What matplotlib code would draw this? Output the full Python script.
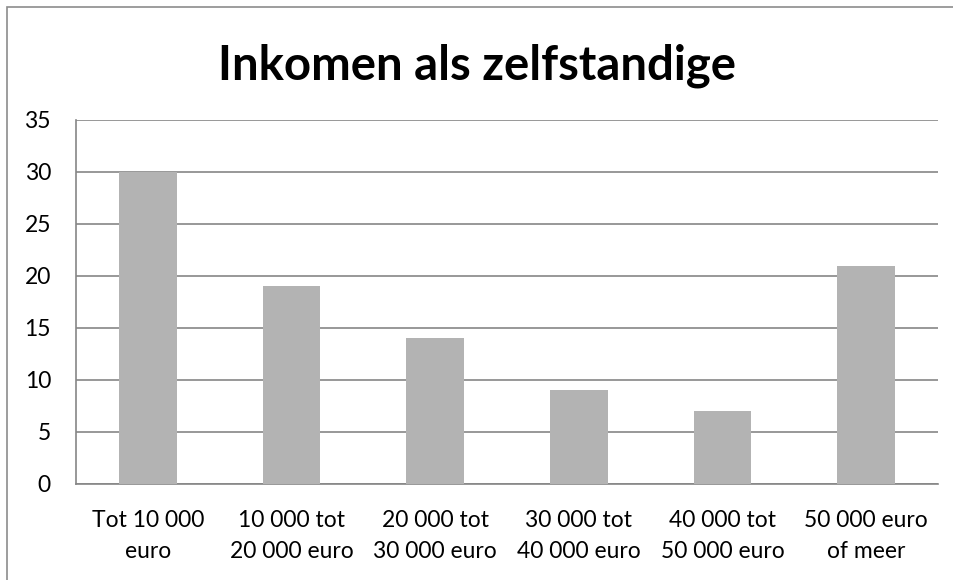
import matplotlib.pyplot as plt
from matplotlib.patches import Rectangle

categorieen = ["Tot 10 000\neuro", "10 000 tot\n20 000 euro", "20 000 tot\n30 000 euro",
               "30 000 tot\n40 000 euro", "40 000 tot\n50 000 euro", "50 000 euro\nof meer"]
aantallen = [30, 19, 14, 9, 7, 21]
y_ticks = [0, 5, 10, 15, 20, 25, 30, 35]

plt.rcParams["font.family"] = ["Lato", "DejaVu Sans"]

fig = plt.figure(figsize=(9.54, 5.8), dpi=100)
fig.patches.append(Rectangle((7 / 954, -0.05), 1.1, 1 - 7 / 580 + 0.05,
                             transform=fig.transFigure, fill=False,
                             edgecolor="#8c8c8c", linewidth=1.2))

ax = fig.add_axes([76 / 954, 1 - 484 / 580, (938 - 76) / 954, (484 - 120) / 580])
x = range(len(categorieen))
ax.bar(x, aantallen, width=0.4, color="#b3b3b3", zorder=3)

ax.set_xlim(-0.5, len(categorieen) - 0.5)
ax.set_ylim(0, 35)
ax.set_yticks(y_ticks)
ax.set_xticks(list(x))
ax.set_xticklabels(categorieen, fontsize=16.5, linespacing=1.55)
ax.tick_params(axis="y", labelsize=16.5, length=0, pad=18)
ax.tick_params(axis="x", length=0, pad=19)
ax.grid(axis="y", color="#868686", linewidth=1.2, zorder=0)

for kant in ["top", "right"]:
    ax.spines[kant].set_visible(False)
for kant in ["left", "bottom"]:
    ax.spines[kant].set_color("#868686")
    ax.spines[kant].set_linewidth(1.2)

fig.text(0.5, 1 - 66 / 580, "Inkomen als zelfstandige", ha="center", va="center",
         fontsize=34, fontweight="bold")

fig.savefig("out.png", dpi=100)
